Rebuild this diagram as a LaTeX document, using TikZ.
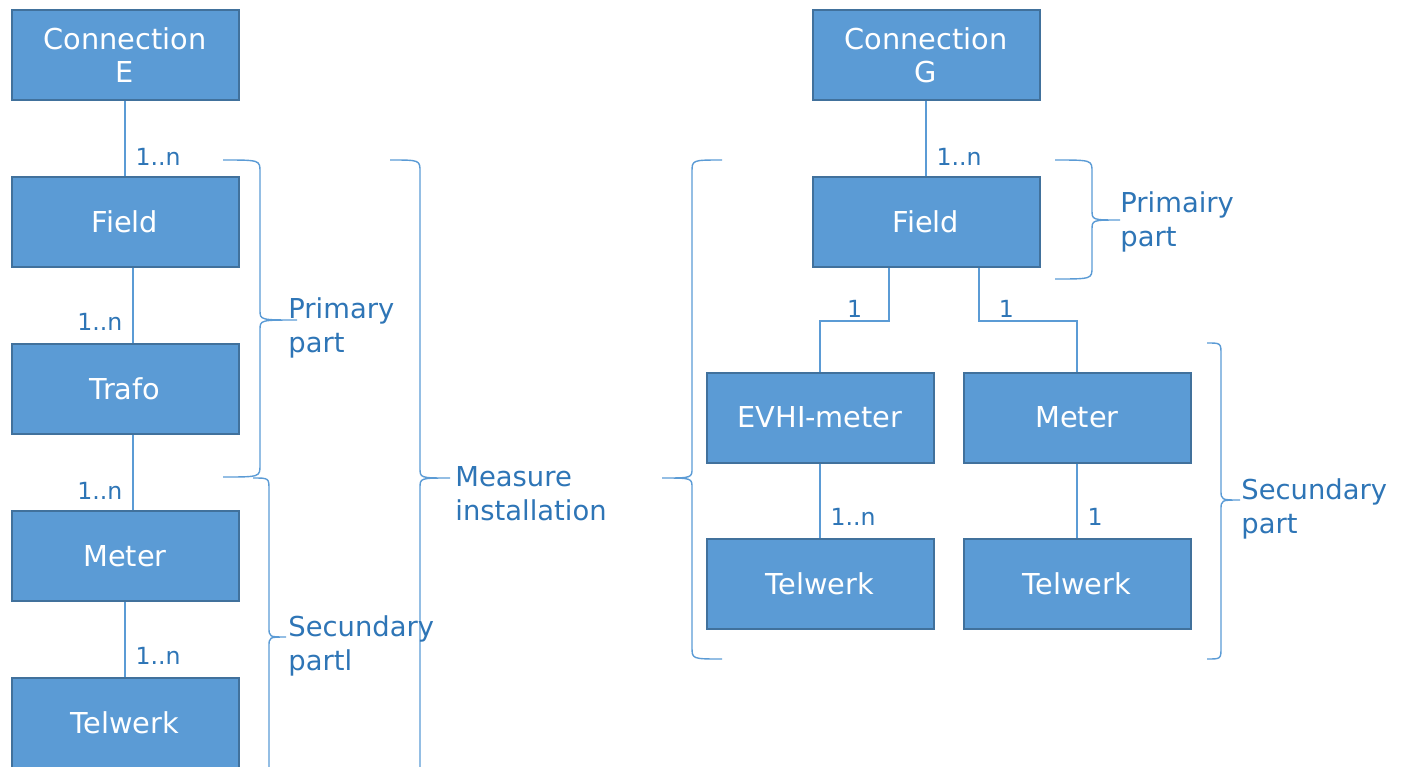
\documentclass[tikz,border=0pt]{standalone}
\usepackage{fontspec}
\setmainfont{DejaVu Sans}
\usepackage{xcolor}
\usetikzlibrary{positioning,calc}

\definecolor{boxblue}{HTML}{5B9BD5}
\definecolor{boxedge}{HTML}{41719C}
\definecolor{txtblue}{HTML}{2E75B6}

% curly brace: end x, stem x, tip x, top y, tip y, bottom y
\newcommand{\partbrace}[6]{%
  \draw[brace] (#1,#4) .. controls (#2,#4) .. (#2,{#4+12})
    -- (#2,{#5-10}) .. controls (#2,#5) .. (#3,#5)
    .. controls (#2,#5) .. (#2,{#5+10})
    -- (#2,{#6-12}) .. controls (#2,#6) .. (#1,#6);}

\begin{document}
\begin{tikzpicture}[x=0.5pt, y=-0.5pt,
    box/.style={rectangle, draw=boxedge, line width=1pt, fill=boxblue, text=white, align=center,
      minimum width=113.5pt, minimum height=45pt, inner sep=0pt, font=\fontsize{14.4}{16.5}\selectfont},
    line/.style={draw=boxblue, line width=0.7pt},
    brace/.style={draw=boxblue, line width=0.7pt},
    num/.style={text=txtblue, inner sep=5pt, font=\fontsize{11.8}{14}\selectfont},
    part/.style={text=txtblue, anchor=west, align=left, inner sep=0pt, font=\fontsize{13.7}{17}\selectfont}]

    \useasboundingbox (0,0) rectangle (1402,766);
    \clip (0,0) rectangle (1402,766);

    % Nodes, connection E
    \node [box] at (125,55) (connE) {Connection\\E};
    \node [box, below=37.5pt of connE] (fieldE) {Field};
    \node [box, below=37.5pt of fieldE] (trafo) {Trafo};
    \node [box, below=37.5pt of trafo] (meterE) {Meter};
    \node [box, below=37.5pt of meterE] (telwerkE) {Telwerk};

    % Nodes, connection G
    \node [box] at (926,55) (connG) {Connection\\G};
    \node [box, below=37.5pt of connG] (fieldG) {Field};
    \node [box] at (820,417.5) (evhi) {EVHI-meter};
    \node [box] at (1077,417.5) (meterG) {Meter};
    \node [box, below=37pt of evhi] (telwerkA) {Telwerk};
    \node [box, below=37pt of meterG] (telwerkB) {Telwerk};

    % Paths
    \path [line] (connE) -- node [num, right, pos=0.75] {1..n} (fieldE);
    \path [line] ([xshift=4pt]fieldE.south) -- node [num, left, pos=0.72] {1..n} ([xshift=4pt]trafo.north);
    \path [line] ([xshift=4pt]trafo.south) -- node [num, left, pos=0.75] {1..n} ([xshift=4pt]meterE.north);
    \path [line] (meterE) -- node [num, right, pos=0.72] {1..n} (telwerkE);

    \path [line] (connG) -- node [num, right, pos=0.75] {1..n} (fieldG);
    \path [line] ([xshift=-18.5pt]fieldG.south) -- ++(0,-26.5pt) -| node [num, above, inner sep=1.5pt, pos=0.25] {1} (evhi.north);
    \path [line] ([xshift=26.5pt]fieldG.south) -- ++(0,-26.5pt) -| node [num, above, inner sep=1.5pt, pos=0.14] {1} (meterG.north);
    \path [line] (evhi) -- node [num, right, pos=0.72] {1..n} (telwerkA);
    \path [line] (meterG) -- node [num, right, pos=0.72] {1} (telwerkB);

    % Braces
    \partbrace{223}{260}{297}{160}{320}{477}
    \partbrace{253}{269}{286}{478}{637}{830}
    \partbrace{390}{420}{450}{160}{478}{830}
    \partbrace{722}{692}{662}{160}{478}{659}
    \partbrace{1055}{1092}{1120}{160}{220}{279}
    \partbrace{1207}{1221}{1240}{343}{500}{659}

    % Brace labels
    \node [part] at (288,328) (primE) {Primary\\part};
    \node [part] at (288,646) (secE) {Secundary\\partl};
    \node [part] at (455,494) (measure) {Measure\\installation};
    \node [part] at (1120,222) (primG) {Primairy\\part};
    \node [part] at (1241,509) (secG) {Secundary\\part};

\end{tikzpicture}
\end{document}
